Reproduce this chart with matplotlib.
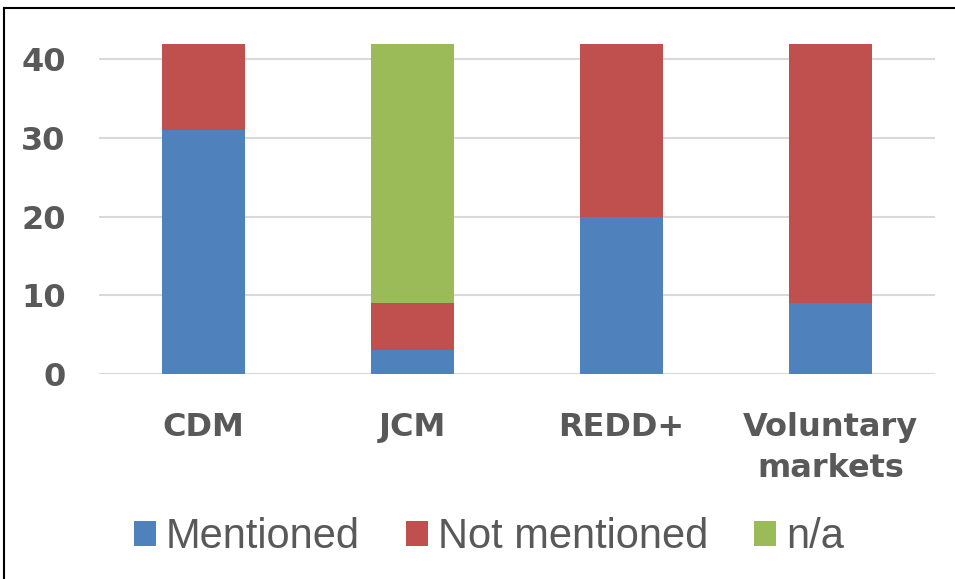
import matplotlib
matplotlib.use("Agg")
import matplotlib.pyplot as plt
from matplotlib.lines import Line2D

categories = ["CDM", "JCM", "REDD+", "Voluntary\nmarkets"]
mentioned = [31, 3, 20, 9]
not_mentioned = [11, 6, 22, 33]
na = [0, 33, 0, 0]
series_names = ["Mentioned", "Not mentioned", "n/a"]
colors = ["#4F81BD", "#C0504D", "#9BBB59"]
yticks = [0, 10, 20, 30, 40]

grey = "#595959"
font = ["DejaVu Sans"]

fig = plt.figure(figsize=(9.55, 5.79), dpi=100)
ax = fig.add_axes([0.1037, 0.354, 0.8753, 0.584])

x = list(range(len(categories)))
bottom2 = [a + b for a, b in zip(mentioned, not_mentioned)]
ax.bar(x, mentioned, width=0.4, color=colors[0], label=series_names[0], zorder=3)
ax.bar(x, not_mentioned, width=0.4, bottom=mentioned, color=colors[1],
       label=series_names[1], zorder=3)
ax.bar(x, na, width=0.4, bottom=bottom2, color=colors[2],
       label=series_names[2], zorder=3)

ax.set_xlim(-0.5, len(categories) - 0.5)
ax.set_ylim(0, 43)
ax.set_yticks(yticks)
ax.yaxis.grid(True, color="#D9D9D9", linewidth=1.5, zorder=0)
for s in ax.spines.values():
    s.set_visible(False)
ax.tick_params(length=0)
ax.tick_params(axis="y", pad=24)
ax.tick_params(axis="x", pad=27)
ax.set_xticks(x)
ax.set_xticklabels(categories, linespacing=1.45)
for lbl in ax.get_xticklabels() + ax.get_yticklabels():
    lbl.set_fontfamily(font)
    lbl.set_fontweight("bold")
    lbl.set_fontsize(23)
    lbl.set_color(grey)

leg = fig.legend(loc="center", bbox_to_anchor=(0.512, 0.0725), ncol=3, frameon=False,
                 handlelength=0.53, handleheight=0.53, handletextpad=0.24,
                 columnspacing=1.1,
                 prop={"family": ["Liberation Sans", "DejaVu Sans"], "size": 30})
for t in leg.get_texts():
    t.set_color(grey)

# border on top and left (picture is cropped at right and bottom)
fig.add_artist(Line2D([4 / 955, 4 / 955], [0, 1 - 8 / 579], color="black", linewidth=1.5))
fig.add_artist(Line2D([4 / 955, 1], [1 - 8 / 579, 1 - 8 / 579], color="black", linewidth=1.5))

fig.savefig("out.png", dpi=100)
